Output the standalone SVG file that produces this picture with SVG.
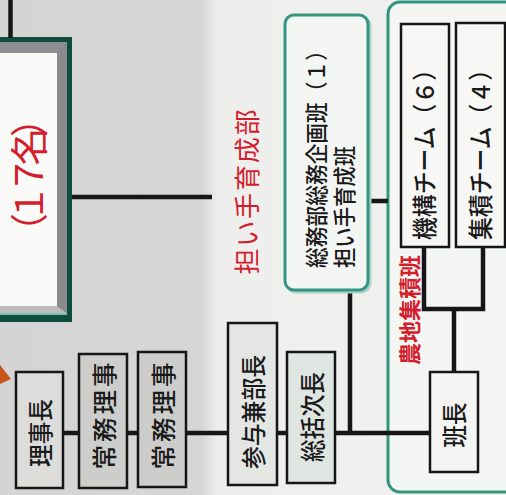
<svg xmlns="http://www.w3.org/2000/svg" width="506" height="495" viewBox="0 0 506 495">
<defs>
<linearGradient id="bg" x1="0" y1="0" x2="506" y2="0" gradientUnits="userSpaceOnUse">
<stop offset="0" stop-color="#d3d4d3"/>
<stop offset="0.40" stop-color="#d5d6d5"/>
<stop offset="0.43" stop-color="#eeeeec"/>
<stop offset="1" stop-color="#f1f1ef"/>
</linearGradient>
<style>
text{font-family:"Noto Sans CJK JP","Noto Sans CJK SC",sans-serif;}
.lbl{font-size:24.5px;font-weight:500;fill:#1a1a1a;text-anchor:middle;dominant-baseline:central;}
.red{fill:#d41e2e;text-anchor:middle;dominant-baseline:central;}
.box{stroke:#161616;stroke-width:2.5;}
.ln{stroke:#161616;stroke-width:4.5;fill:none;}
.teal{fill:#f4f6f4;stroke:#34967f;stroke-width:3;}
.glow{fill:none;stroke:#a9d4c8;stroke-width:3;}
</style>
</defs>
<rect x="0" y="0" width="506" height="495" fill="url(#bg)"/>

<!-- big box -->
<g id="bigbox">
<rect x="-10" y="37" width="82" height="285" fill="#0f4c3d"/>
<rect x="-10" y="42" width="77" height="271" fill="#8e8e92"/>
<rect x="-10" y="313" width="77" height="2" fill="#7cc0b0"/>
<polygon points="-10,306 57,306 67,313 -10,313" fill="#bdbdbd"/>
<polygon points="57,53 67,42 67,313 57,306" fill="#8a8a8e"/>
<rect x="-10" y="53" width="67" height="253" fill="#fafaf8"/>
<text class="red" x="26" y="175" font-size="38" textLength="152" lengthAdjust="spacing" transform="rotate(-90 26 175)">（１７名）</text>
</g>

<polygon points="0,365 11,379 0,384" fill="#c8541e"/>

<!-- section labels -->
<text id="label-ninaite" class="red" x="245" y="192" font-size="26" textLength="165" lengthAdjust="spacing" transform="rotate(-90 245 192)">担い手育成部</text>

<!-- panel 農地集積班 -->
<g id="panel">
<rect x="390" y="4" width="140" height="486" rx="12" class="glow"/>
<rect x="388" y="2" width="140" height="490" rx="12" class="teal" fill="#f3f4f2"/>
<text class="red" x="408" y="310" font-size="22" font-weight="bold" textLength="110" transform="rotate(-90 408 310)">農地集積班</text>
</g>

<!-- connectors -->
<g id="connectors">
<line class="ln" x1="10.5" y1="0" x2="10.5" y2="38"/>
<line class="ln" x1="72" y1="197" x2="212" y2="197"/>
<line class="ln" x1="63" y1="433" x2="79" y2="433"/>
<line class="ln" x1="127" y1="433" x2="138" y2="433"/>
<line class="ln" x1="186" y1="433" x2="228" y2="433"/>
<line class="ln" x1="277" y1="433" x2="287" y2="433"/>
<line class="ln" x1="335" y1="433" x2="430" y2="433"/>
<line class="ln" x1="350" y1="291" x2="350" y2="433"/>
<line class="ln" x1="368" y1="201" x2="388" y2="201"/>
<polyline class="ln" points="424,247 424,309 483,309 483,247"/>
<line class="ln" x1="454" y1="309" x2="454" y2="372"/>
</g>

<g id="rijicho">
<rect class="box" x="16" y="372" width="47" height="116" fill="#dcdcda"/>
<text class="lbl" x="39.5" y="433" textLength="68" lengthAdjust="spacingAndGlyphs" transform="rotate(-90 39.5 433)">理事長</text>
</g>
<g id="jomu1">
<rect class="box" x="79" y="354" width="48" height="134" fill="#cdcecb"/>
<text class="lbl" x="103" y="416" textLength="107" lengthAdjust="spacing" transform="rotate(-90 103 416)">常務理事</text>
</g>
<g id="jomu2">
<rect class="box" x="138" y="352" width="48" height="135" fill="#cdcecb"/>
<text class="lbl" x="162" y="416" textLength="107" lengthAdjust="spacing" transform="rotate(-90 162 416)">常務理事</text>
</g>
<g id="sanyo">
<rect class="box" x="228" y="323" width="49" height="162" fill="#e3e6e3"/>
<text class="lbl" x="252" y="412" textLength="114" lengthAdjust="spacingAndGlyphs" transform="rotate(-90 252 412)">参与兼部長</text>
</g>
<g id="sokatsu">
<rect class="box" x="287" y="352" width="48" height="131" fill="#dfe5e1"/>
<text class="lbl" x="311" y="417" textLength="90" lengthAdjust="spacingAndGlyphs" transform="rotate(-90 311 417)">総括次長</text>
</g>
<g id="somu">
<rect x="287" y="17" width="83" height="275" rx="9" class="glow"/>
<rect x="285" y="15" width="83" height="275" rx="9" class="teal"/>
<text class="lbl" x="315" y="268" textLength="228" lengthAdjust="spacingAndGlyphs" transform="rotate(-90 315 268)" style="text-anchor:start;font-size:22.5px">総務部総務企画班（１）</text>
<text class="lbl" x="343" y="268" textLength="122" lengthAdjust="spacingAndGlyphs" transform="rotate(-90 343 268)" style="text-anchor:start;font-size:22.5px">担い手育成班</text>
</g>
<g id="kiko">
<rect class="box" x="401" y="24" width="48" height="223" fill="#f7f7f5"/>
<text class="lbl" x="423" y="149" textLength="182" lengthAdjust="spacingAndGlyphs" transform="rotate(-90 423 149)">機構チーム（６）</text>
</g>
<g id="shuseki">
<rect class="box" x="456" y="23" width="49" height="224" fill="#f7f7f5"/>
<text class="lbl" x="479" y="149" textLength="182" lengthAdjust="spacingAndGlyphs" transform="rotate(-90 479 149)">集積チーム（４）</text>
</g>
<g id="hancho">
<rect class="box" x="430" y="372" width="48" height="100" fill="#f4f4f2"/>
<text class="lbl" x="453" y="425" textLength="45" lengthAdjust="spacingAndGlyphs" transform="rotate(-90 453 425)">班長</text>
</g>
</svg>
